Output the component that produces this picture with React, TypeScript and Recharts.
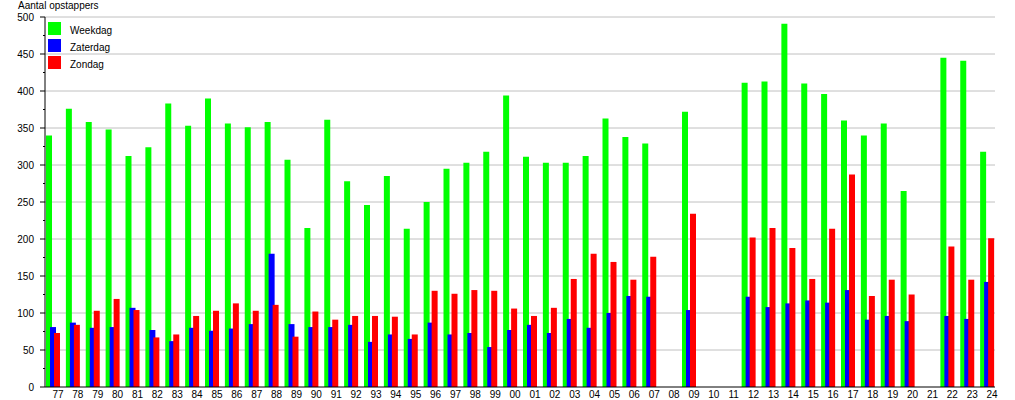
import { Bar, BarChart, CartesianGrid, Legend, XAxis, YAxis } from "recharts";

const YEARS = [
  "77", "78", "79", "80", "81", "82", "83", "84", "85", "86", "87", "88",
  "89", "90", "91", "92", "93", "94", "95", "96", "97", "98", "99", "00",
  "01", "02", "03", "04", "05", "06", "07", "08", "09", "10", "11", "12",
  "13", "14", "15", "16", "17", "18", "19", "20", "21", "22", "23", "24",
];

const WEEKDAG = [
  340, 376, 358, 348, 312, 324, 383, 353, 390, 356, 351, 358,
  307, 215, 361, 278, 246, 285, 214, 250, 295, 303, 318, 394,
  311, 303, 303, 312, 363, 338, 329, null, 372, null, null, 411,
  413, 491, 410, 396, 360, 340, 356, 265, null, 445, 441, 318,
];

const ZATERDAG = [
  81, 87, 80, 81, 107, 77, 62, 80, 76, 79, 85, 180,
  85, 81, 81, 84, 61, 71, 65, 87, 71, 73, 54, 77,
  84, 73, 92, 80, 100, 123, 122, null, 104, null, null, 122,
  108, 113, 117, 114, 131, 91, 96, 89, null, 96, 92, 142,
];

const ZONDAG = [
  73, 84, 103, 119, 104, 67, 71, 96, 103, 113, 103, 111,
  68, 102, 91, 96, 96, 95, 71, 130, 126, 131, 130, 106,
  96, 107, 146, 180, 169, 145, 176, null, 234, null, null, 202,
  215, 188, 146, 214, 287, 123, 145, 125, null, 190, 145, 201,
];

const Y_TICKS = [
  0, 25, 50, 75, 100, 125, 150, 175, 200, 225, 250,
  275, 300, 325, 350, 375, 400, 425, 450, 475, 500,
];
const GRID_LINES = [50, 100, 150, 200, 250, 300, 350, 400, 450, 500];

const SERIES = [
  { key: "weekdag", name: "Weekdag", color: "#00ff00" },
  { key: "zaterdag", name: "Zaterdag", color: "#0000ff" },
  { key: "zondag", name: "Zondag", color: "#ff0000" },
];

const FONT = '"Liberation Sans", Arial, sans-serif';

const data = YEARS.map((year, i) => ({
  year,
  weekdag: WEEKDAG[i],
  zaterdag: ZATERDAG[i],
  zondag: ZONDAG[i],
}));

function YTick({ x, y, payload }: any) {
  const major = payload.value % 50 === 0;
  return (
    <g>
      <line x1={x - (major ? 5 : 2)} x2={x} y1={y} y2={y} stroke="#000" />
      {major && (
        <text
          x={x - 11}
          y={y}
          dy="0.35em"
          textAnchor="end"
          fontSize={10}
          fontFamily={FONT}
          fill="#000"
        >
          {payload.value}
        </text>
      )}
    </g>
  );
}

function LegendBox() {
  return (
    <div style={{ fontFamily: FONT, fontSize: 10, color: "#000" }}>
      {SERIES.map((s) => (
        <div key={s.key} style={{ display: "flex", height: 17 }}>
          <div style={{ width: 13, height: 13, background: s.color }} />
          <span style={{ marginLeft: 9, lineHeight: "13px", position: "relative", top: 2 }}>
            {s.name}
          </span>
        </div>
      ))}
    </div>
  );
}

export default function App() {
  return (
    <div style={{ position: "absolute", left: 0, top: 0, width: 1015, height: 400, background: "#fff" }}>
      <div
        style={{
          position: "absolute",
          left: 18,
          top: 1,
          fontFamily: FONT,
          fontSize: 10,
          lineHeight: "10px",
          color: "#000",
          zIndex: 2,
        }}
      >
        Aantal opstappers
      </div>
      <BarChart
        width={1015}
        height={400}
        data={data}
        margin={{ top: 17, right: 20, bottom: 0, left: 0 }}
        barSize={6}
        barGap={-2}
      >
        <CartesianGrid vertical={false} horizontalValues={GRID_LINES} stroke="#c0c0c0" />
        <XAxis
          dataKey="year"
          height={13}
          interval={0}
          tickLine={false}
          tickSize={0}
          tickMargin={4}
          padding={{ left: -2, right: -2 }}
          stroke="#000"
          tick={{ fill: "#000", fontSize: 10, fontFamily: FONT, dx: 5 }}
        />
        <YAxis
          width={45}
          domain={[0, 500]}
          ticks={Y_TICKS}
          interval={0}
          tickLine={false}
          tickSize={0}
          tickMargin={0}
          stroke="#000"
          tick={<YTick />}
        />
        <Legend
          layout="vertical"
          align="center"
          verticalAlign="middle"
          wrapperStyle={{ left: 48, top: 22, width: "auto" }}
          content={() => <LegendBox />}
        />
        {SERIES.map((s) => (
          <Bar key={s.key} dataKey={s.key} name={s.name} fill={s.color} isAnimationActive={false} />
        ))}
      </BarChart>
    </div>
  );
}
